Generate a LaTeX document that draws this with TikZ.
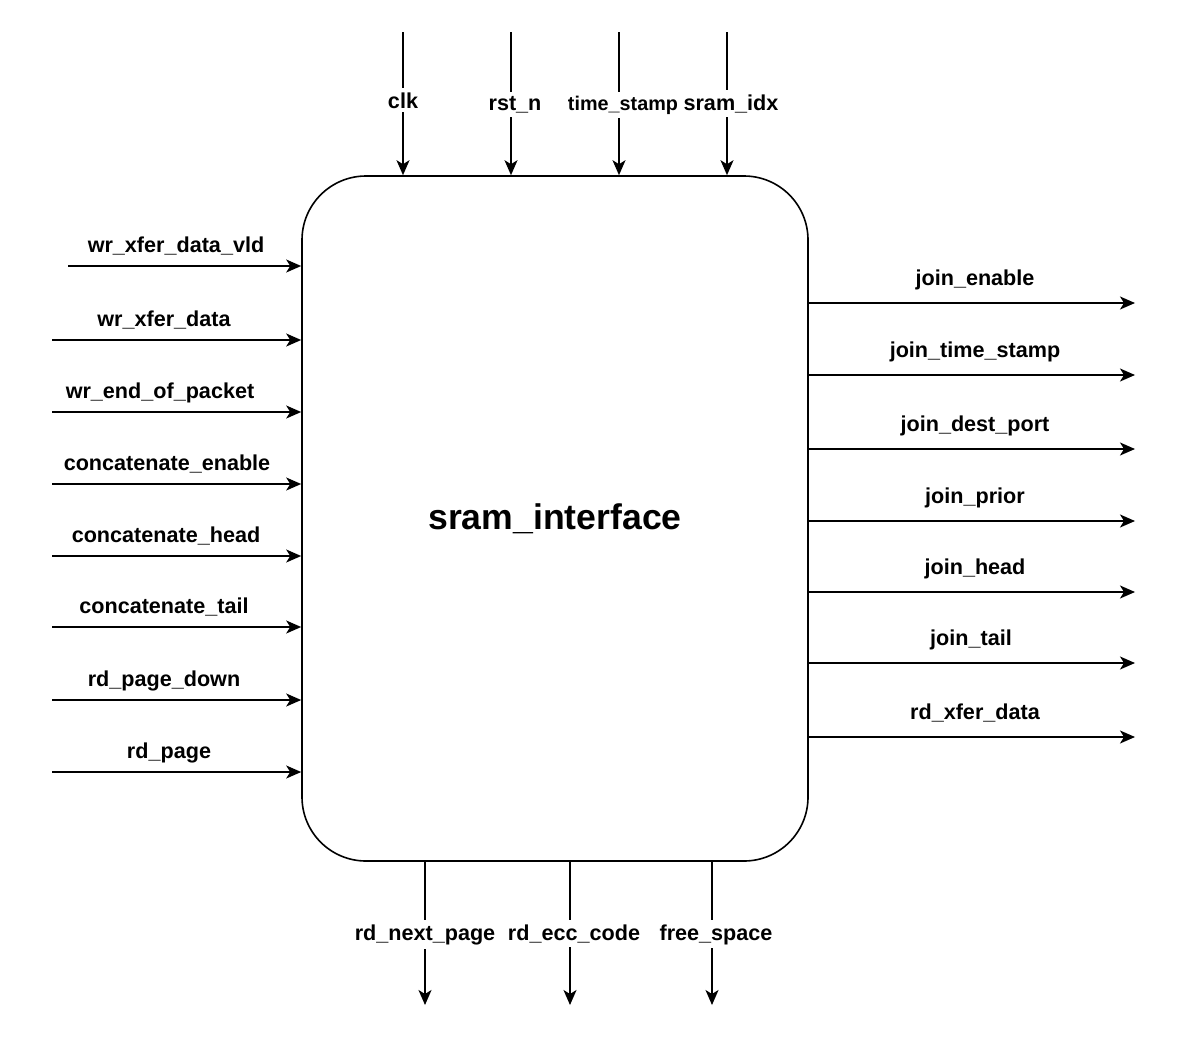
\documentclass[tikz,border=0pt]{standalone}
\usepackage{fontspec}
\setmainfont{Liberation Sans}
\usetikzlibrary{arrows.meta}

\begin{document}
\begin{tikzpicture}[x=0.5pt,y=-0.5pt,
  sig/.style={-{Stealth[length=7.5pt,width=6.5pt,inset=2pt]},line width=0.8pt},
  lbl/.style={font=\bfseries\fontsize{10.8}{13}\selectfont,inner sep=0.5pt,anchor=base},
  cutlbl/.style={lbl,fill=white,inner xsep=0.5pt,inner ysep=2pt},
  block/.style={draw,line width=0.8pt,rounded corners=32pt,minimum width=253pt,minimum height=342.5pt,
    font=\bfseries\fontsize{17.8}{21}\selectfont}]
\useasboundingbox (0,0) rectangle (1182,1044);

\node[block] (sram) at (555,518.5) {sram\_interface};

% inputs on top
\foreach \x/\lx/\ly/\txt [count=\i] in {403/403/108/clk, 511/515/110/rst\_n,
    619/623/110/{\fontsize{9.9}{12}\selectfont time\_stamp}, 727/731/110/sram\_idx} {
  \coordinate (t\i) at (\x,32);
  \draw[sig] (t\i) -- (t\i |- sram.north);
  \node[cutlbl] (tl\i) at (\lx,\ly) {\txt};
}

% inputs on the left
\foreach \y/\sx/\lx/\txt [count=\i] in {266/68/176/wr\_xfer\_data\_vld, 340/52/164/wr\_xfer\_data,
    412/52/160/wr\_end\_of\_packet, 484/52/167/concatenate\_enable, 556/52/166/concatenate\_head,
    627/52/164/concatenate\_tail, 700/52/164/rd\_page\_down, 772/52/169/rd\_page} {
  \coordinate (l\i) at (\sx,\y);
  \draw[sig] (l\i) -- (l\i -| sram.west);
  \node[lbl] (ll\i) at (\lx,\y-14) {\txt};
}

% outputs on the right
\foreach \y/\lx/\txt [count=\i] in {303/975/join\_enable, 375/975/join\_time\_stamp,
    449/975/join\_dest\_port, 521/975/join\_prior, 592/975/join\_head, 663/971/join\_tail,
    737/975/rd\_xfer\_data} {
  \coordinate (r\i) at (1135,\y);
  \draw[sig] (r\i -| sram.east) -- (r\i);
  \node[lbl] (rl\i) at (\lx,\y-17.5) {\txt};
}

% outputs at the bottom
\foreach \x/\lx/\txt [count=\i] in {425/425/rd\_next\_page, 570/574/rd\_ecc\_code, 712/716/free\_space} {
  \coordinate (b\i) at (\x,1005);
  \draw[sig] (b\i |- sram.south) -- (b\i);
  \node[cutlbl] (bl\i) at (\lx,940) {\txt};
}
\end{tikzpicture}
\end{document}
